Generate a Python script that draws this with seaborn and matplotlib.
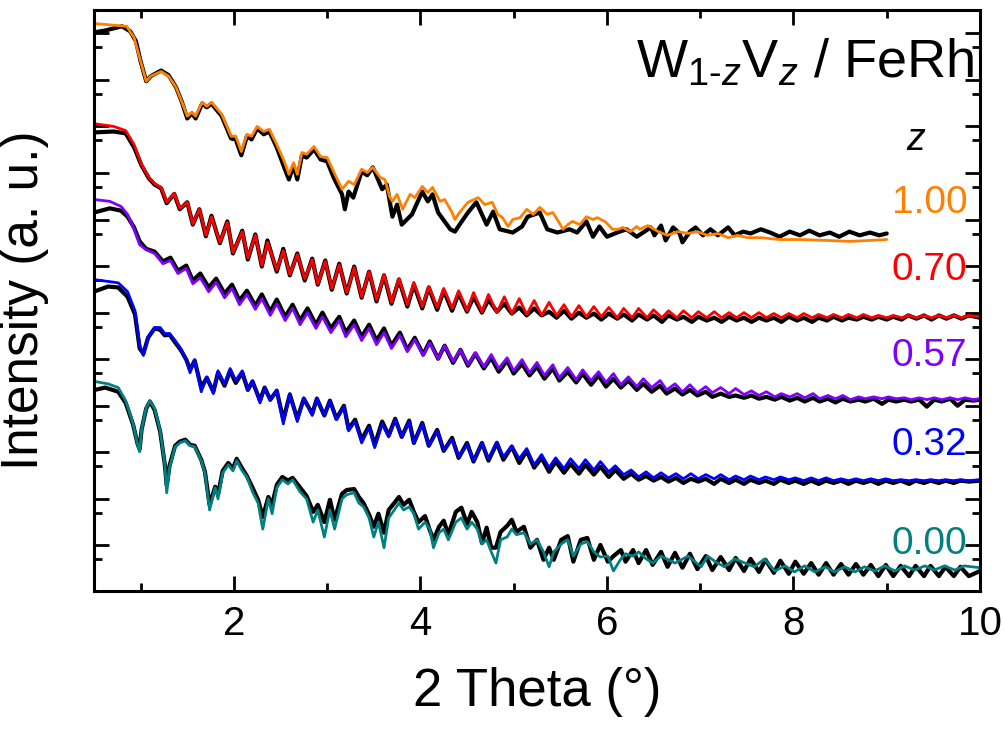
import numpy as np
import seaborn as sns
import matplotlib.pyplot as plt
from matplotlib.ticker import MultipleLocator, LogLocator, NullFormatter

sns.set_style('ticks')
plt.rcParams['font.family'] = ['Liberation Sans', 'DejaVu Sans']
plt.rcParams['mathtext.fontset'] = 'custom'
plt.rcParams['mathtext.rm'] = 'Liberation Sans'
plt.rcParams['mathtext.it'] = 'Liberation Sans:italic'
for k in ['text.color', 'axes.labelcolor', 'xtick.color', 'ytick.color', 'axes.edgecolor']:
    plt.rcParams[k] = 'black'

# XRR curves of W(1-z)V(z)/FeRh, 2theta in degrees, log10 intensity (a.u., stacked)
z_labels = ['1.00', '0.70', '0.57', '0.32', '0.00']
colors = ['#ff8000', '#ff0000', '#8000ff', '#0000ff', '#008080']

#z = 1.00 : (2theta, log10 I)
orange_fit = [(0.50,11.21),(0.85,11.15),(0.93,10.91),(1.00,10.40),(1.06,9.97),(1.11,10.08),(1.22,10.18),(1.30,10.08),
    (1.38,9.84),(1.44,9.54),(1.50,9.22),(1.55,9.30),(1.59,9.22),(1.66,9.52),(1.71,9.43),(1.76,9.52),(1.87,9.26),
    (1.97,8.79),(2.02,8.79),(2.08,8.46),(2.14,8.83),(2.19,8.79),(2.25,9.00),(2.32,8.89),(2.38,8.94),(2.46,8.61),
    (2.54,8.25),(2.59,7.97),(2.64,8.22),(2.68,7.97),(2.73,8.44),(2.78,8.40),(2.86,8.57),(2.93,8.35),(3.00,8.33),
    (3.07,8.03),(3.16,7.65),(3.23,7.82),(3.29,7.75),(3.37,8.08),(3.43,8.01),(3.49,8.12),(3.57,7.90),(3.62,7.86),
    (3.67,7.49),(3.70,7.39),(3.75,7.54),(3.81,7.22),(3.89,7.54),(3.94,7.47),(4.02,7.71),(4.08,7.58),(4.13,7.69),
    (4.21,7.39),(4.26,7.43),(4.34,7.15),(4.37,7.00),(4.42,7.15),(4.51,7.37),(4.62,7.47),(4.69,7.32),(4.77,7.37),
    (4.83,7.11),(4.88,7.04),(4.94,6.85),(4.99,7.00),(5.07,7.04),(5.14,7.22),(5.21,7.11),(5.28,7.26),(5.36,7.11),
    (5.42,7.15),(5.50,6.89),(5.53,6.79),(5.58,6.89),(5.63,6.96),(5.71,6.89),(5.78,7.06),(5.85,7.00),(5.90,7.04),
    (5.99,6.94),(6.06,6.79),(6.12,6.79),(6.17,6.83),(6.25,6.74),(6.32,6.85),(6.35,6.79),(6.44,6.87),(6.55,6.74),
    (6.65,6.66),(6.76,6.74),(6.87,6.70),(6.97,6.74),(7.08,6.66),(7.19,6.70),(7.30,6.61),(7.40,6.66),(7.51,6.61),
    (7.65,6.61),(7.85,6.57),(8.07,6.57),(8.36,6.55),(8.60,6.53),(8.82,6.55),(9.00,6.57)]
orange_meas = [(0.50,11.02),(0.62,11.06),(0.80,11.15),(0.89,11.04),(0.95,10.83),(1.00,10.40),(1.06,9.97),(1.11,10.08),
    (1.22,10.20),(1.30,10.10),(1.38,9.84),(1.44,9.54),(1.50,9.17),(1.55,9.28),(1.59,9.17),(1.66,9.49),(1.71,9.41),
    (1.76,9.49),(1.87,9.22),(1.97,8.74),(2.02,8.72),(2.08,8.38),(2.14,8.79),(2.19,8.72),(2.25,8.96),(2.32,8.83),
    (2.38,8.89),(2.46,8.55),(2.54,8.12),(2.59,7.86),(2.64,8.16),(2.68,7.86),(2.73,8.38),(2.78,8.33),(2.86,8.51),
    (2.93,8.29),(3.00,8.25),(3.07,7.90),(3.16,7.54),(3.19,7.22),(3.23,7.60),(3.28,7.47),(3.37,8.03),(3.43,7.95),
    (3.49,8.12),(3.59,7.65),(3.64,7.75),(3.70,7.06),(3.75,7.32),(3.80,6.89),(3.91,7.11),(4.02,7.60),(4.08,7.39),
    (4.13,7.54),(4.19,7.15),(4.32,6.79),(4.37,6.74),(4.42,6.89),(4.51,7.15),(4.60,7.37),(4.71,6.89),(4.78,7.17),
    (4.85,6.79),(4.99,6.72),(5.09,6.85),(5.15,7.06),(5.28,7.15),(5.36,6.79),(5.47,6.72),(5.60,6.79),(5.68,6.72),
    (5.78,6.96),(5.85,6.63),(5.92,6.85),(6.00,6.63),(6.11,6.72),(6.21,6.79),(6.32,6.63),(6.47,6.83),(6.51,6.66),
    (6.58,6.87),(6.63,6.55),(6.71,6.83),(6.78,6.70),(6.81,6.51),(6.89,6.74),(6.95,6.83),(7.03,6.66),(7.11,6.79),
    (7.19,6.66),(7.30,6.83),(7.37,6.66),(7.46,6.74),(7.54,6.70),(7.65,6.79),(7.75,6.72),(7.85,6.63),(7.96,6.74),
    (8.07,6.66),(8.17,6.76),(8.28,6.66),(8.39,6.72),(8.49,6.63),(8.60,6.74),(8.71,6.66),(8.82,6.72),(8.92,6.66),
    (9.00,6.70)]

#z = 0.70 : (2theta, log10 I fit, log10 I measured)
red = [(0.50,9.06,8.87),(0.71,9.00,8.89),(0.84,8.91,8.85),(0.93,8.61,8.55),(1.01,8.18,8.16),(1.09,7.90,7.88),
    (1.15,7.77,7.75),(1.22,7.69,7.67),(1.28,7.37,7.35),(1.36,7.56,7.55),(1.42,7.24,7.22),(1.50,7.37,7.37),
    (1.56,6.91,6.89),(1.63,7.22,7.22),(1.70,6.66,6.64),(1.76,7.06,7.08),(1.85,6.51,6.49),(1.93,6.94,6.96),
    (1.99,6.29,6.27),(2.09,6.74,6.76),(2.15,6.18,6.14),(2.23,6.66,6.68),(2.30,6.01,5.99),(2.36,6.51,6.55),
    (2.46,5.92,5.88),(2.53,6.33,6.37),(2.60,5.82,5.80),(2.68,6.25,6.27),(2.76,5.73,5.69),(2.84,6.14,6.16),
    (2.90,5.62,5.60),(2.98,6.10,6.12),(3.05,5.52,5.49),(3.13,6.03,6.05),(3.21,5.43,5.41),(3.29,5.97,5.99),
    (3.37,5.34,5.32),(3.45,5.88,5.88),(3.53,5.28,5.24),(3.61,5.82,5.80),(3.69,5.22,5.19),(3.77,5.73,5.71),
    (3.86,5.17,5.13),(3.93,5.65,5.60),(4.02,5.13,5.09),(4.09,5.56,5.54),(4.18,5.11,5.06),(4.25,5.52,5.47),
    (4.34,5.09,5.04),(4.41,5.47,5.41),(4.50,5.04,5.02),(4.57,5.43,5.34),(4.66,5.02,5.00),(4.73,5.39,5.28),
    (4.82,5.00,5.02),(4.90,5.34,5.19),(4.98,4.98,4.98),(5.06,5.30,5.11),(5.14,4.96,4.94),(5.22,5.26,5.09),
    (5.30,4.94,4.94),(5.38,5.22,5.02),(5.46,4.94,4.89),(5.54,5.17,5.04),(5.62,4.91,4.87),(5.70,5.15,5.00),
    (5.78,4.91,4.89),(5.86,5.13,4.98),(5.94,4.91,4.85),(6.02,5.11,4.98),(6.11,4.89,4.87),(6.18,5.09,4.96),
    (6.27,4.89,4.83),(6.34,5.09,4.96),(6.43,4.89,4.85),(6.50,5.06,4.94),(6.59,4.89,4.80),(6.66,5.04,4.94),
    (6.75,4.89,4.85),(6.82,5.04,4.91),(6.91,4.89,4.80),(6.98,5.02,4.91),(7.07,4.89,4.83),(7.15,5.02,4.89),
    (7.23,4.89,4.80),(7.31,5.00,4.91),(7.39,4.89,4.83),(7.47,5.00,4.89),(7.55,4.89,4.80),(7.63,5.00,4.89),
    (7.71,4.89,4.83),(7.79,4.98,4.89),(7.87,4.89,4.80),(7.95,4.98,4.91),(8.04,4.89,4.83),(8.11,4.98,4.89),
    (8.20,4.89,4.80),(8.27,4.96,4.89),(8.36,4.89,4.83),(8.43,4.96,4.91),(8.52,4.89,4.83),(8.59,4.96,4.89),
    (8.68,4.89,4.85),(8.75,4.96,4.91),(8.84,4.89,4.85),(8.91,4.94,4.91),(9.00,4.89,4.85),(9.07,4.94,4.91),
    (9.16,4.89,4.85),(9.23,4.94,4.94),(9.32,4.89,4.87),(9.40,4.94,4.94),(9.48,4.89,4.85),(9.56,4.94,4.94),
    (9.64,4.89,4.87),(9.72,4.94,4.94),(9.80,4.89,4.87),(9.88,4.94,4.94),(10.0,4.91,4.89)]

#z = 0.57
purple = [(0.50,7.43,7.15),(0.67,7.39,7.24),(0.79,7.28,7.19),(0.86,7.11,7.06),(0.93,6.79,6.83),(0.99,6.46,6.53),
    (1.06,6.35,6.37),(1.15,6.27,6.31),(1.24,6.05,6.10),(1.32,6.12,6.18),(1.40,5.84,5.90),(1.49,5.95,6.01),
    (1.56,5.62,5.69),(1.64,5.75,5.84),(1.73,5.45,5.54),(1.81,5.65,5.73),(1.90,5.32,5.41),(1.98,5.52,5.60),
    (2.06,5.17,5.26),(2.14,5.39,5.47),(2.23,5.07,5.15),(2.30,5.30,5.39),(2.39,4.94,5.02),(2.46,5.19,5.28),
    (2.55,4.83,4.91),(2.63,5.09,5.17),(2.71,4.74,4.83),(2.79,5.00,5.09),(2.88,4.66,4.74),(2.95,4.91,5.00),
    (3.04,4.57,4.66),(3.13,4.83,4.91),(3.20,4.48,4.57),(3.29,4.74,4.83),(3.37,4.40,4.48),(3.45,4.66,4.74),
    (3.53,4.31,4.40),(3.61,4.57,4.66),(3.69,4.23,4.29),(3.78,4.51,4.57),(3.86,4.16,4.20),(3.94,4.42,4.46),
    (4.03,4.08,4.10),(4.10,4.35,4.38),(4.19,4.01,4.01),(4.26,4.29,4.29),(4.35,3.95,3.92),(4.43,4.20,4.20),
    (4.51,3.88,3.86),(4.59,4.14,4.12),(4.68,3.84,3.80),(4.76,4.10,4.03),(4.84,3.80,3.73),(4.93,4.03,3.97),
    (5.00,3.75,3.69),(5.09,3.99,3.90),(5.17,3.71,3.65),(5.25,3.93,3.84),(5.33,3.65,3.58),(5.42,3.88,3.80),
    (5.49,3.60,3.54),(5.58,3.82,3.73),(5.67,3.56,3.50),(5.74,3.77,3.69),(5.83,3.54,3.45),(5.91,3.73,3.65),
    (5.99,3.50,3.41),(6.07,3.69,3.58),(6.15,3.45,3.39),(6.23,3.62,3.54),(6.32,3.41,3.34),(6.39,3.58,3.47),
    (6.48,3.39,3.30),(6.57,3.54,3.43),(6.64,3.34,3.26),(6.73,3.47,3.37),(6.81,3.30,3.24),(6.89,3.45,3.34),
    (6.97,3.28,3.22),(7.06,3.41,3.30),(7.13,3.28,3.19),(7.22,3.39,3.26),(7.31,3.26,3.19),(7.38,3.37,3.22),
    (7.47,3.24,3.17),(7.55,3.32,3.22),(7.63,3.22,3.15),(7.71,3.30,3.19),(7.80,3.19,3.13),(7.87,3.26,3.19),
    (7.96,3.19,3.11),(8.04,3.26,3.17),(8.12,3.17,3.09),(8.21,3.26,3.17),(8.28,3.15,3.09),(8.37,3.22,3.15),
    (8.45,3.15,3.07),(8.53,3.22,3.15),(8.61,3.13,3.09),(8.70,3.19,3.13),(8.77,3.15,3.09),(8.86,3.19,3.15),
    (8.95,3.15,3.04),(9.02,3.19,3.13),(9.10,3.15,3.09),(9.19,3.17,3.13),(9.26,3.13,3.09),(9.35,3.17,3.13),
    (9.43,3.13,2.98),(9.51,3.17,3.13),(9.59,3.13,3.09),(9.68,3.17,3.15),(9.76,3.13,3.00),(9.84,3.17,3.13),
    (9.93,3.13,3.11),(10.0,3.15,3.13)]

#z = 0.32
blue = [(0.50,5.71,5.45),(0.65,5.67,5.56),(0.76,5.64,5.54),(0.86,5.45,5.34),(0.94,5.04,4.96),(0.99,4.31,4.23),
    (1.03,4.08,4.12),(1.08,4.48,4.46),(1.15,4.68,4.66),(1.21,4.68,4.63),(1.26,4.55,4.51),(1.31,4.55,4.53),
    (1.37,4.40,4.36),(1.43,4.23,4.20),(1.49,3.99,3.99),(1.53,3.71,3.77),(1.58,3.99,3.97),(1.65,3.30,3.39),
    (1.71,3.62,3.60),(1.78,3.26,3.30),(1.83,3.75,3.71),(1.90,3.47,3.43),(1.96,3.80,3.75),(2.02,3.54,3.49),
    (2.09,3.75,3.71),(2.15,3.34,3.34),(2.20,3.54,3.52),(2.28,3.06,3.11),(2.33,3.39,3.39),(2.39,3.11,3.13),
    (2.46,3.34,3.32),(2.53,2.61,2.70),(2.60,3.26,3.24),(2.68,2.66,2.72),(2.75,3.17,3.15),(2.84,2.79,2.83),
    (2.89,3.17,3.15),(2.97,2.79,2.79),(3.03,3.11,3.11),(3.10,2.70,2.72),(3.18,2.98,3.00),(3.23,2.46,2.50),
    (3.30,2.66,2.70),(3.37,2.20,2.27),(3.45,2.53,2.57),(3.51,2.10,2.16),(3.59,2.61,2.66),(3.66,2.33,2.36),
    (3.73,2.70,2.72),(3.80,2.33,2.33),(3.88,2.66,2.68),(3.93,2.20,2.20),(4.02,2.61,2.63),(4.09,2.14,2.14),
    (4.18,2.46,2.48),(4.25,2.05,2.03),(4.34,2.27,2.31),(4.41,1.90,1.88),(4.50,2.16,2.20),(4.57,1.82,1.80),
    (4.66,2.20,2.20),(4.73,1.86,1.82),(4.82,2.22,2.20),(4.89,1.90,1.84),(4.98,2.14,2.12),(5.06,1.86,1.77),
    (5.14,2.08,2.03),(5.22,1.73,1.67),(5.30,1.95,1.88),(5.38,1.67,1.58),(5.45,1.88,1.80),(5.54,1.65,1.56),
    (5.61,1.86,1.75),(5.70,1.65,1.54),(5.77,1.84,1.73),(5.86,1.62,1.52),(5.93,1.80,1.69),(6.02,1.58,1.47),
    (6.09,1.71,1.62),(6.18,1.52,1.43),(6.26,1.62,1.54),(6.34,1.47,1.41),(6.42,1.58,1.49),(6.50,1.45,1.39),
    (6.58,1.56,1.47),(6.66,1.45,1.37),(6.74,1.54,1.45),(6.82,1.43,1.34),(6.90,1.54,1.43),(6.98,1.43,1.37),
    (7.06,1.52,1.43),(7.15,1.43,1.32),(7.22,1.52,1.43),(7.31,1.41,1.34),(7.38,1.49,1.41),(7.47,1.41,1.32),
    (7.54,1.49,1.41),(7.63,1.41,1.34),(7.70,1.47,1.39),(7.79,1.41,1.32),(7.86,1.47,1.41),(7.95,1.41,1.34),
    (8.02,1.45,1.39),(8.11,1.39,1.32),(8.19,1.45,1.39),(8.27,1.39,1.32),(8.35,1.45,1.39),(8.43,1.39,1.34),
    (8.51,1.43,1.39),(8.59,1.39,1.32),(8.67,1.43,1.39),(8.75,1.39,1.34),(8.83,1.43,1.39),(8.91,1.39,1.32),
    (8.99,1.43,1.39),(9.07,1.39,1.34),(9.15,1.41,1.39),(9.24,1.39,1.32),(9.31,1.41,1.39),(9.40,1.39,1.34),
    (9.47,1.41,1.39),(9.56,1.39,1.34),(9.63,1.41,1.39),(9.72,1.39,1.34),(9.79,1.41,1.39),(9.88,1.39,1.37),
    (10.0,1.41,1.39)]

#z = 0.00 : fit and measured sampled separately
teal_fit = [(0.51,3.52),(0.65,3.47),(0.76,3.39),(0.84,3.11),(0.92,2.61),(0.97,2.14),(0.99,2.01),(1.01,2.48),
    (1.06,2.96),(1.10,3.11),(1.15,2.94),(1.21,2.46),(1.26,1.73),(1.28,1.13),(1.31,1.67),(1.37,2.12),(1.42,2.20),
    (1.48,2.25),(1.53,2.14),(1.58,2.12),(1.65,1.82),(1.69,1.56),(1.74,0.76),(1.80,1.24),(1.83,1.00),(1.88,1.56),
    (1.94,1.73),(1.99,1.60),(2.03,1.82),(2.09,1.60),(2.14,1.47),(2.20,1.15),(2.26,0.91),(2.31,0.35),(2.37,1.00),
    (2.41,0.68),(2.46,1.24),(2.52,1.41),(2.58,1.32),(2.63,1.41),(2.71,1.15),(2.78,1.00),(2.85,0.50),(2.90,0.76),
    (2.97,0.18),(3.03,0.76),(3.08,0.35),(3.16,1.00),(3.21,1.09),(3.29,1.13),(3.34,0.91),(3.39,0.83),(3.45,0.59),
    (3.50,0.18),(3.55,0.50),(3.61,-0.05),(3.66,0.59),(3.72,0.76),(3.77,0.91),(3.82,0.76),(3.88,0.83),(3.93,0.68),
    (3.98,0.35),(4.05,0.50),(4.10,0.35),(4.14,-0.05),(4.20,0.27),(4.25,0.35),(4.30,0.12),(4.38,0.50),(4.44,0.59),
    (4.50,0.35),(4.55,0.50),(4.61,0.35),(4.66,0.03),(4.71,0.12),(4.76,-0.14),(4.81,-0.38),(4.86,0.12),(4.93,0.18),
    (4.98,0.35),(5.03,0.23),(5.11,0.27),(5.18,0.03),(5.25,0.12),(5.32,-0.14),(5.38,-0.46),(5.43,-0.14),(5.51,0.03),
    (5.58,0.12),(5.64,-0.23),(5.72,0.03),(5.79,0.08),(5.86,-0.14),(5.93,-0.25),(6.01,-0.23),(6.07,-0.55),
    (6.15,-0.29),(6.20,-0.18),(6.28,-0.23),(6.34,-0.14),(6.42,-0.29),(6.49,-0.38),(6.58,-0.23),(6.73,-0.38),
    (6.87,-0.23),(7.01,-0.46),(7.08,-0.23),(7.17,-0.36),(7.26,-0.46),(7.37,-0.29),(7.48,-0.38),(7.58,-0.46),
    (7.69,-0.29),(7.80,-0.55),(7.91,-0.44),(8.01,-0.57),(8.12,-0.44),(8.23,-0.57),(8.34,-0.46),(8.44,-0.57),
    (8.55,-0.46),(8.66,-0.57),(8.76,-0.46),(8.87,-0.55),(8.98,-0.44),(9.09,-0.55),(9.19,-0.44),(9.30,-0.53),
    (9.41,-0.44),(9.51,-0.53),(9.62,-0.44),(9.73,-0.53),(9.83,-0.44),(10.0,-0.48)]
teal_meas = [(0.51,3.34),(0.62,3.39),(0.76,3.30),(0.84,3.06),(0.92,2.59),(0.97,2.16),(0.99,2.07),(1.01,2.48),
    (1.06,2.94),(1.10,3.09),(1.15,2.91),(1.21,2.44),(1.26,1.73),(1.28,1.28),(1.31,1.71),(1.37,2.14),(1.42,2.23),
    (1.48,2.27),(1.53,2.16),(1.58,2.14),(1.65,1.84),(1.69,1.58),(1.74,0.87),(1.80,1.26),(1.83,1.09),(1.88,1.60),
    (1.94,1.77),(1.99,1.65),(2.03,1.86),(2.09,1.65),(2.14,1.49),(2.20,1.24),(2.26,0.98),(2.31,0.61),(2.37,1.04),
    (2.41,0.87),(2.46,1.30),(2.52,1.47),(2.58,1.39),(2.63,1.45),(2.71,1.24),(2.78,1.06),(2.85,0.72),(2.90,0.87),
    (2.97,0.50),(3.03,0.98),(3.08,0.55),(3.16,1.11),(3.21,1.19),(3.29,1.21),(3.34,1.04),(3.39,0.91),(3.45,0.66),
    (3.50,0.40),(3.55,0.68),(3.61,0.27),(3.66,0.76),(3.72,0.91),(3.77,1.04),(3.82,0.87),(3.88,0.98),(3.93,0.72),
    (3.98,0.50),(4.05,0.63),(4.10,0.33),(4.14,0.12),(4.20,0.40),(4.25,0.53),(4.30,0.23),(4.38,0.72),(4.44,0.81),
    (4.50,0.46),(4.55,0.72),(4.61,0.50),(4.66,0.05),(4.71,0.38),(4.76,-0.05),(4.81,-0.05),(4.86,0.29),(4.93,0.42),
    (4.98,0.55),(5.03,0.29),(5.11,0.40),(5.18,-0.05),(5.25,0.12),(5.32,-0.31),(5.38,-0.05),(5.43,-0.31),(5.51,0.12),
    (5.58,0.20),(5.64,-0.35),(5.72,0.12),(5.79,0.16),(5.86,-0.31),(5.93,0.01),(6.01,-0.35),(6.07,-0.23),
    (6.15,-0.10),(6.20,-0.35),(6.28,-0.10),(6.34,-0.38),(6.42,-0.10),(6.49,-0.42),(6.58,-0.14),(6.65,-0.46),
    (6.73,-0.16),(6.81,-0.48),(6.89,-0.18),(6.97,-0.51),(7.06,-0.23),(7.13,-0.53),(7.22,-0.25),(7.31,-0.53),
    (7.38,-0.27),(7.47,-0.55),(7.54,-0.29),(7.63,-0.57),(7.70,-0.31),(7.79,-0.59),(7.86,-0.33),(7.95,-0.61),
    (8.02,-0.35),(8.11,-0.61),(8.19,-0.38),(8.27,-0.63),(8.35,-0.38),(8.43,-0.63),(8.51,-0.40),(8.59,-0.63),
    (8.67,-0.40),(8.75,-0.63),(8.83,-0.42),(8.91,-0.66),(8.99,-0.42),(9.07,-0.66),(9.15,-0.44),(9.24,-0.66),
    (9.31,-0.44),(9.40,-0.66),(9.47,-0.44),(9.56,-0.66),(9.63,-0.46),(9.72,-0.66),(9.79,-0.46),(9.88,-0.66),
    (10.0,-0.55)]

# where the z labels sit (axes fraction)
label_y = [0.668, 0.552, 0.404, 0.251, 0.081]


def draw(ax, pts, col, color, lw):
    arr = np.array(pts)
    sns.lineplot(x=arr[:, 0], y=10 ** arr[:, col], color=color, lw=lw,
                 sort=False, estimator=None, ax=ax, solid_joinstyle='round')


fig = plt.figure(figsize=(10.05, 7.42), dpi=100)
ax = fig.add_axes([0.0935, 0.2035, 0.8816, 0.783])
ax.set_yscale('log')

meas_lw = 3.0
fit_lw = 2.0
#measured in black, fit in colour on top
draw(ax, orange_meas, 1, 'black', meas_lw)
draw(ax, orange_fit, 1, colors[0], fit_lw)
draw(ax, red, 2, 'black', meas_lw)
draw(ax, red, 1, colors[1], fit_lw)
draw(ax, purple, 2, 'black', meas_lw)
draw(ax, purple, 1, colors[2], fit_lw)
draw(ax, blue, 2, 'black', meas_lw)
draw(ax, blue, 1, colors[3], fit_lw)
draw(ax, teal_meas, 1, 'black', meas_lw)
draw(ax, teal_fit, 1, colors[4], fit_lw)

ax.set_xlim(0.5, 10)
ax.set_ylim(10 ** -0.98, 10 ** 11.5)

ax.xaxis.set_major_locator(MultipleLocator(2))
ax.xaxis.set_minor_locator(MultipleLocator(1))
ax.yaxis.set_major_locator(LogLocator(base=10, numticks=30))
ax.yaxis.set_minor_locator(LogLocator(base=10, subs=[5], numticks=30))
ax.yaxis.set_major_formatter(NullFormatter())
ax.yaxis.set_minor_formatter(NullFormatter())
ax.tick_params(which='both', direction='in', top=True, right=True, width=2.0, labelsize=29, pad=10)
ax.tick_params(which='major', length=11)
ax.tick_params(which='minor', length=6)
for s in ax.spines.values():
    s.set_linewidth(2.2)

ax.set_xlabel('2 Theta (°)', fontsize=38)
ax.set_ylabel('Intensity (a. u.)', fontsize=37)
ax.xaxis.set_label_coords(0.5, -0.13)
ax.yaxis.set_label_coords(-0.051, 0.5)

title = 'W$_{\\mathregular{1\u2010}\\mathit{z}}$V$_{\\mathit{z}}$ / FeRh'
ax.text(0.994, 0.883, title, transform=ax.transAxes, ha='right', va='baseline', fontsize=39)
ax.text(0.927, 0.776, 'z', transform=ax.transAxes, ha='center', va='center', fontsize=27, style='italic')
for lab, yy, c in zip(z_labels, label_y, colors):
    ax.text(0.986, yy, lab, transform=ax.transAxes, ha='right', va='center', fontsize=28, color=c)

fig.savefig('out.png', dpi=100)
